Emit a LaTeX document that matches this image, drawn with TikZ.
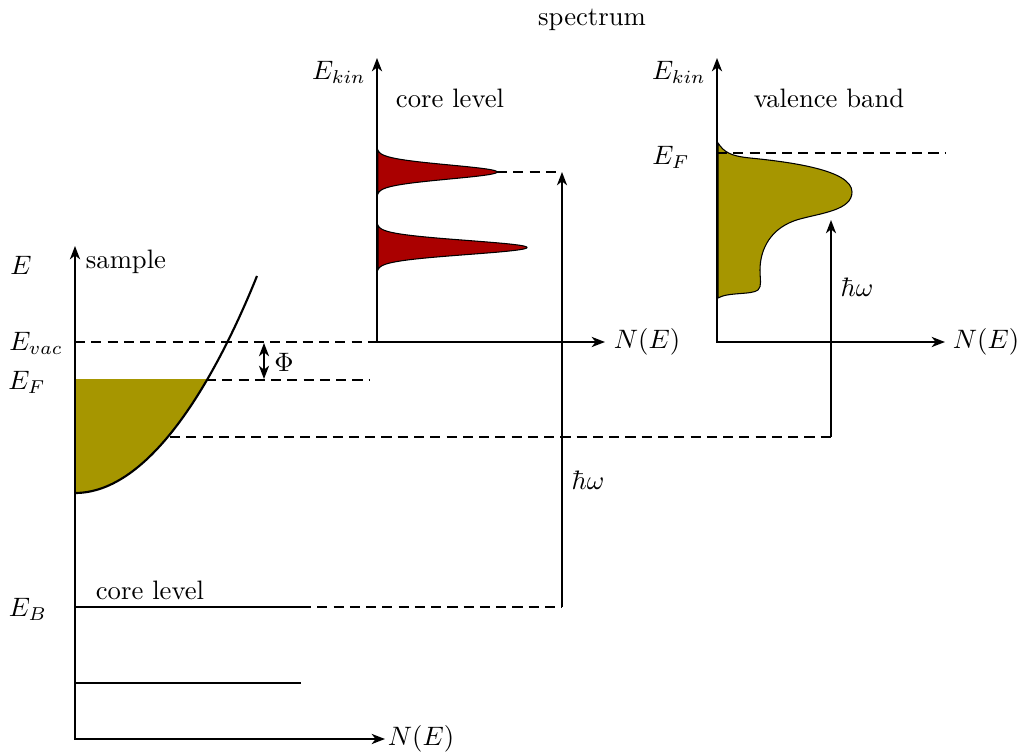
\documentclass[tikz,border=0pt]{standalone}
\usetikzlibrary{arrows.meta}
\definecolor{vbolive}{RGB}{166,150,0}
\definecolor{peakred}{RGB}{170,0,0}
\begin{document}
\begin{tikzpicture}[x=0.375pt,y=-0.375pt,
  >={Stealth[length=5pt,width=3.8pt,inset=1.5pt]},
  axis/.style={thick,<->},
  lvl/.style={thick},
  dsh/.style={thick,dash pattern=on 3.8pt off 2.3pt},
  hw/.style={semithick,->},
  outl/.style={draw=black,thin},
  lbl/.style={inner sep=1pt}]
\useasboundingbox (0,0) rectangle (1023,754);

% ---------- coordinates ----------
\coordinate (sTop) at (75,246);
\coordinate (sRight) at (385,739);
\coordinate (c1Top) at (377,58);
\coordinate (c1Right) at (605,342);
\coordinate (c2Top) at (717,58);
\coordinate (c2Right) at (945,342);

\coordinate (vacL) at (75,342);
\coordinate (vacR) at (377,342);
\coordinate (fermiC) at (206,380);
\coordinate (fermiR) at (370,380);
\coordinate (vbC) at (170,437);
\coordinate (vbR) at (831,437);
\coordinate (vbTip) at (831,220);
\coordinate (coreL) at (75,607);
\coordinate (coreM) at (301,607);
\coordinate (coreR) at (562,607);
\coordinate (coreTip) at (562,172);
\coordinate (peakTip) at (497,172);
\coordinate (deepL) at (75,683);
\coordinate (deepR) at (301,683);
\coordinate (phiA) at (264,343);
\coordinate (phiB) at (264,379);
\coordinate (efL) at (717,153);
\coordinate (efR) at (945,153);

% ---------- sample: filled band ----------
\begin{scope}
  \clip (75,380) rectangle (320,500);
  \fill[vbolive] (75,493) .. controls (150,493) and (215,380) .. (257,276) -- (75,276) -- cycle;
\end{scope}
\draw[thick] (75,493) .. controls (150,493) and (215,380) .. (257,276);

% ---------- spectrum: core level peaks ----------
\fill[peakred,outl] plot[domain=-22:22,samples=121,smooth]
  ({377+120*exp(-(\x*\x)/(2*7*7))},{172+\x}) -- cycle;
\fill[peakred,outl] plot[domain=-22:22,samples=121,smooth]
  ({377+150*exp(-(\x*\x)/(2*7*7))},{247.5+\x}) -- cycle;

% ---------- spectrum: valence band ----------
\fill[vbolive,outl] (718,143) .. controls (724,152) and (730,156) .. (750,158)
  .. controls (790,162) and (852,170) .. (852,192)
  .. controls (852,210) and (822,213) .. (800,219)
  .. controls (770,227) and (760,250) .. (760,270)
  .. controls (760,280) and (762,286) .. (758,290)
  .. controls (752,295) and (728,292) .. (718,298) -- cycle;

% ---------- axes ----------
\draw[axis] (sTop) |- (sRight);
\draw[axis] (c1Top) |- (c1Right);
\draw[axis] (c2Top) |- (c2Right);

% ---------- levels and connectors ----------
\draw[dsh] (vacL) -- (vacR);
\draw[dsh] (fermiC) -- (fermiR);
\draw[dsh] (vbC) -- (vbR);
\draw[hw] (vbR) -- (vbTip);
\draw[lvl] (coreL) -- (coreM);
\draw[dsh] (coreM) -- (coreR);
\draw[hw] (coreR) -- (coreTip);
\draw[dsh] (peakTip) -- (coreTip);
\draw[lvl] (deepL) -- (deepR);
\draw[semithick,<->] (phiA) -- (phiB);
\draw[dsh] (efL) -- (efR);

% ---------- labels ----------
\node[lbl] (lE) at (21,265) {$E$};
\node[lbl] (lsample) at (126,262) {sample};
\node[lbl] (lEvac) at (36,343) {$E_{vac}$};
\node[lbl] (lEF) at (27,382) {$E_F$};
\node[lbl] (lEB) at (28,609) {$E_B$};
\node[lbl] (lcore) at (150,590) {core level};
\node[lbl] (lNE1) at (421,739) {$N(E)$};
\node[lbl] (lphi) at (284,362) {$\Phi$};
\node[lbl] (lhw1) at (588,480) {$\hbar\omega$};
\node[lbl] (lhw2) at (857,287) {$\hbar\omega$};
\node[lbl] (lspec) at (592,20) {spectrum};
\node[lbl] (lEk1) at (339,72) {$E_{kin}$};
\node[lbl] (lEk2) at (679,72) {$E_{kin}$};
\node[lbl] (lcore2) at (450,98) {core level};
\node[lbl] (lval) at (829,98) {valence band};
\node[lbl] (lEF2) at (671,157) {$E_F$};
\node[lbl] (lNE2) at (647,342) {$N(E)$};
\node[lbl] (lNE3) at (986,342) {$N(E)$};
\end{tikzpicture}
\end{document}
